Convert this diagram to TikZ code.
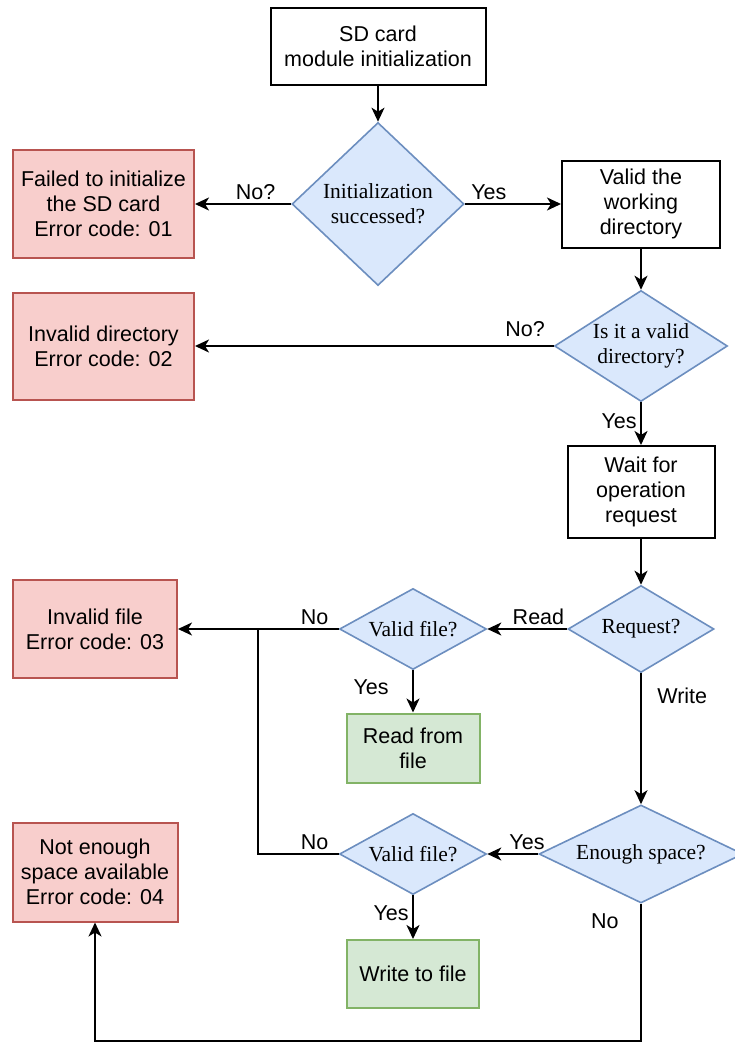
\documentclass[tikz,border=0pt]{standalone}
\usepackage{fontspec}
\setmainfont{Liberation Sans}
\newfontfamily\decfont{Liberation Serif}
\usetikzlibrary{arrows.meta, shapes.geometric}

\definecolor{errfill}{HTML}{F8CECC}
\definecolor{errline}{HTML}{B85450}
\definecolor{decfill}{HTML}{DAE8FC}
\definecolor{decline}{HTML}{6C8EBF}
\definecolor{okfill}{HTML}{D5E8D4}
\definecolor{okline}{HTML}{82B366}

\begin{document}
\begin{tikzpicture}[>={Stealth[length=14pt, width=13pt, inset=4pt]}, x=1pt, y=-1pt,
  font=\fontsize{21.5}{25}\selectfont,
  proc/.style={draw, line width=2pt, align=center, inner sep=0pt},
  errbox/.style={proc, draw=errline, fill=errfill},
  okbox/.style={proc, draw=okline, fill=okfill},
  dec/.style={diamond, draw=decline, fill=decfill, line width=1.6pt, align=center,
              inner sep=-12pt, shape aspect=2,
              font=\decfont\fontsize{21.5}{25}\selectfont},
  flow/.style={line width=2pt, ->}]
  \useasboundingbox (0,0) rectangle (735,1044);

  % Init and directory check
  \node[proc, minimum width=215pt, minimum height=77pt] (init) at (378,46.5)
    {SD card\\module initialization};
  \node[dec, minimum width=172pt, minimum height=163pt] (chkinit) at (378,204)
    {Initialization\\successed?};
  \node[errbox, minimum width=181pt, minimum height=108pt] (err1) at (103.5,204)
    {Failed to initialize\\the SD card\\Error code: 01};
  \node[proc, minimum width=158pt, minimum height=87pt] (workdir) at (641,204)
    {Valid the\\working\\directory};
  \node[dec, minimum width=173pt, minimum height=111pt] (chkdir) at (641,346)
    {Is it a valid\\directory?};
  \node[errbox, minimum width=181pt, minimum height=107pt] (err2) at (103.5,346)
    {Invalid directory\\Error code: 02};

  % Requests
  \node[proc, minimum width=147pt, minimum height=92pt] (wait) at (641,492)
    {Wait for\\operation\\request};
  \node[dec, minimum width=146pt, minimum height=87pt] (request) at (641,629)
    {Request?};
  \node[dec, minimum width=147pt, minimum height=81pt] (chkread) at (413,629)
    {Valid file?};
  \node[errbox, minimum width=164pt, minimum height=98pt] (err3) at (95,629)
    {Invalid file\\Error code: 03};
  \node[okbox, minimum width=133pt, minimum height=69pt] (read) at (413,748)
    {Read from\\file};
  \node[dec, minimum width=204pt, minimum height=98pt] (space) at (641,854)
    {Enough space?};
  \node[dec, minimum width=147pt, minimum height=81pt] (chkwrite) at (413,854)
    {Valid file?};
  \node[okbox, minimum width=132pt, minimum height=68pt] (write) at (413,974)
    {Write to file};
  \node[errbox, minimum width=165pt, minimum height=99pt] (err4) at (95,872)
    {Not enough\\space available\\Error code: 04};

  \coordinate (jn) at (258,629);
  \coordinate (botline) at (641,1041);

  % Connectors
  \draw[flow] (init) -- (chkinit);
  \draw[flow] (chkinit) -- node[above, pos=0.37] {No?} (err1);
  \draw[flow] (chkinit) -- node[above, pos=0.25] {Yes} (workdir);
  \draw[flow] (workdir) -- (chkdir);
  \draw[flow] (chkdir) -- node[above=5pt, pos=0.08] {No?} (err2);
  \draw[flow] (chkdir) -- node[left, pos=0.44] {Yes} (wait);
  \draw[flow] (wait) -- (request);
  \draw[flow] (request) -- node[above, pos=0.36] {Read} (chkread);
  \draw[flow] (chkread) -- node[above, pos=0.15] {No} (err3);
  \draw[flow] (chkread) -- node[left=20pt, pos=0.4] {Yes} (read);
  \draw[flow] (request) -- node[right=12pt, pos=0.17] {Write} (space);
  \draw[flow] (space) -- node[above, pos=0.22] {Yes} (chkwrite);
  \draw[line width=2pt] (chkwrite) -| node[above, pos=0.15] {No} (jn);
  \draw[flow] (chkwrite) -- node[left, pos=0.4] {Yes} (write);
  \draw[flow] (space) -- node[left=18pt, pos=0.13] {No} (botline) -| (err4);
\end{tikzpicture}
\end{document}
